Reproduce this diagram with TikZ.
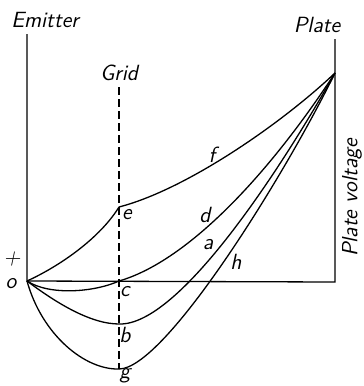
\documentclass[tikz,border=0pt]{standalone}
\usepackage{tikz}

\tikzset{
  lbl/.style={font=\fontsize{11}{13}\selectfont\sffamily\itshape, inner sep=0.5pt},
  curve/.style={line width=0.65pt},
}

\begin{document}
\begin{tikzpicture}[x=0.5pt, y=-0.5pt, line width=0.65pt]
            \useasboundingbox (0,0) rectangle (364,386);

            \coordinate (O) at (27,281);
            \coordinate (P) at (335,73);
            \coordinate (Et) at (27,34);
            \coordinate (Pt) at (335,39);
            \coordinate (Pb) at (335,282);
            \coordinate (Gt) at (119,87);
            \coordinate (Gb) at (119,369);

            % Các điểm trên lưới
            \coordinate (e) at (119,207);
            \coordinate (c) at (119,281);
            \coordinate (b) at (119,324);
            \coordinate (g) at (119,369);

            % Trục
            \draw (Et) -- (O) -- (Pb) -- (Pt);
            \draw[dashed, dash pattern=on 4pt off 2pt] (Gt) -- (Gb);

            % Đường cong
            \draw[curve] (O) .. controls (60,266) and (100,238) .. (e);
            \draw[curve] (e) .. controls (185,190) and (280,125) .. (P);
            \draw[curve] (O) .. controls (50,296) and (95,292) .. (c);
            \draw[curve] (c) .. controls (185,262) and (265,180) .. (P);
            \draw[curve] (O) .. controls (55,302) and (90,324) .. (b);
            \draw[curve] (b) .. controls (180,326) and (283,165) .. (P);
            \draw[curve] (O) .. controls (42,335) and (85,370) .. (g);
            \draw[curve] (g) .. controls (165,369) and (285,175) .. (P);

            % Ghi nhãn
            \node[lbl] (lEm) at (45,20) {Emitter};
            \node[lbl] (lGr) at (119,73) {Grid};
            \node[lbl] (lPl) at (317,25) {Plate};
            \node[lbl, rotate=90] (lPv) at (352,198) {Plate voltage};
            \node[lbl] (lpl) at (12,259) {+};
            \node[lbl] (lo) at (11,284) {o};
            \node[lbl] (le) at (127,215) {e};
            \node[lbl] (lc) at (125,292) {c};
            \node[lbl] (lb) at (125,335) {b};
            \node[lbl] (lg) at (125,376) {g};
            \node[lbl] (lf) at (212,155) {f};
            \node[lbl] (ld) at (205,215) {d};
            \node[lbl] (la) at (208,245) {a};
            \node[lbl] (lh) at (236,262) {h};
        \end{tikzpicture}
\end{document}
